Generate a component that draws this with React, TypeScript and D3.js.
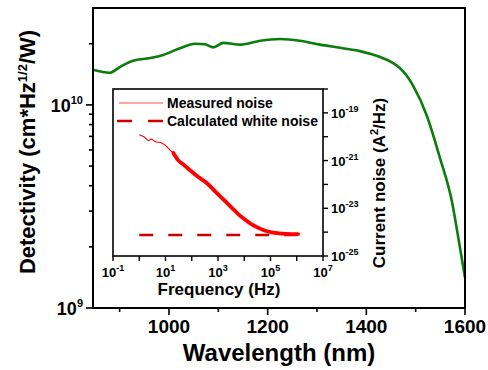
import React from "react";
import * as d3 from "d3";

// Main chart: detectivity vs wavelength
const wavelengths = [846, 880, 901, 927, 962, 988, 1022, 1053, 1073, 1090, 1110, 1145, 1185, 1225, 1265, 1306, 1347, 1387, 1428, 1450, 1468, 1482, 1495, 1523, 1549, 1574, 1586, 1600];
const detectivity = [1.49e10, 1.44e10, 1.54e10, 1.65e10, 1.70e10, 1.76e10, 1.9e10, 2.0e10, 1.99e10, 1.92e10, 2.02e10, 1.98e10, 2.07e10, 2.11e10, 2.07e10, 1.98e10, 1.91e10, 1.84e10, 1.72e10, 1.63e10, 1.52e10, 1.39e10, 1.24e10, 8.8e9, 5.5e9, 3.3e9, 2.25e9, 1.41e9];
const xMajorTicks = [1000, 1200, 1400, 1600];
const xMinorTicks = [900, 1100, 1300, 1500];
const yMajorTicks = [1e9, 1e10];
const yMinorTicks = [2e9, 3e9, 4e9, 5e9, 6e9, 7e9, 8e9, 9e9, 2e10];

// Inset: noise spectrum (log10 values)
const noiseLogF = [0.0, 0.2, 0.35, 0.45, 0.6, 0.87, 1.0, 1.17, 1.3, 1.48, 1.7, 1.93, 2.2, 2.58, 2.9, 3.19, 3.5, 3.75, 4.0, 4.25, 4.5, 4.75, 5.0, 5.25, 5.6, 6.05];
const noiseLogS = [-19.92, -20.02, -20.16, -20.1, -20.2, -20.27, -20.36, -20.56, -20.68, -20.98, -21.18, -21.4, -21.65, -21.95, -22.3, -22.62, -22.95, -23.22, -23.45, -23.65, -23.8, -23.92, -24.0, -24.04, -24.07, -24.08];
const whiteLogF = [0, 6];
const whiteLogS = [-24.12, -24.12];
const insetXExps = [-1, 0, 1, 2, 3, 4, 5, 6, 7];
const insetXLabelExps = [-1, 1, 3, 5, 7];
const insetYExps = [-25, -24, -23, -22, -21, -20, -19, -18];
const insetYLabelExps = [-25, -23, -21, -19];
const legendLabels = ["Measured noise", "Calculated white noise"];

const FONT = "'Liberation Sans', Arial, sans-serif";

export default function App() {
  const W = 488, H = 370;
  const m = { l: 93, t: 8, r: 465, b: 308 };
  const x = d3.scaleLinear().domain([846, 1600]).range([m.l, m.r]);
  const y = d3.scaleLog().domain([1e9, 3e10]).range([m.b, m.t]);

  const ins = { l: 113, t: 89, r: 323, b: 256 };
  const ix = d3.scaleLinear().domain([-1, 7]).range([ins.l, ins.r]);
  const iy = d3.scaleLinear().domain([-25, -18]).range([ins.b, ins.t]);

  const green = d3.line<number>()
    .x((_, i) => x(wavelengths[i]))
    .y((d) => y(d))
    .curve(d3.curveMonotoneX)(detectivity) || "";

  const noisePath = d3.line<number>()
    .x((_, i) => ix(noiseLogF[i]))
    .y((d) => iy(d))
    .curve(d3.curveMonotoneX)(noiseLogS) || "";
  const thickIdx = noiseLogF.map((f, i) => i).filter((i) => noiseLogF[i] >= 1.3);
  const noiseThick = d3.line<number>()
    .x((i) => ix(noiseLogF[i]))
    .y((i) => iy(noiseLogS[i]))
    .curve(d3.curveMonotoneX)(thickIdx) || "";
  const whitePath = d3.line<number>()
    .x((_, i) => ix(whiteLogF[i]))
    .y((d) => iy(d))(whiteLogS) || "";

  return (
    <svg width={W} height={H} style={{ position: "absolute", left: 0, top: 0, background: "#fff" }} fontFamily={FONT} fontWeight="bold">
      <rect x={0} y={0} width={W} height={H} fill="#fff" />
      {/* green curve */}
      <path d={green} fill="none" stroke="#0b7d0b" strokeWidth={2.6} />

      {/* main frame */}
      <rect x={m.l} y={m.t} width={m.r - m.l} height={m.b - m.t} fill="none" stroke="#000" strokeWidth={2} />

      {/* main x ticks */}
      {xMajorTicks.map((t) => (
        <g key={"xm" + t}>
          <line x1={x(t)} x2={x(t)} y1={m.b} y2={m.b + 7} stroke="#000" strokeWidth={1.6} />
          <text x={x(t)} y={333} fontSize={19} textAnchor="middle">{t}</text>
        </g>
      ))}
      {xMinorTicks.map((t) => (
        <line key={"xn" + t} x1={x(t)} x2={x(t)} y1={m.b} y2={m.b + 4} stroke="#000" strokeWidth={1.6} />
      ))}
      {/* main y ticks */}
      {yMajorTicks.map((t) => (
        <g key={"ym" + t}>
          <line x1={m.l - 7} x2={m.l} y1={y(t)} y2={y(t)} stroke="#000" strokeWidth={1.6} />
          <text x={83} y={y(t) + 7} fontSize={18} textAnchor="end">
            <tspan>10</tspan>
            <tspan dy={-8} fontSize={11}>{Math.round(Math.log10(t))}</tspan>
          </text>
        </g>
      ))}
      {yMinorTicks.map((t) => (
        <line key={"yn" + t} x1={m.l - 4} x2={m.l} y1={y(t)} y2={y(t)} stroke="#000" strokeWidth={1.6} />
      ))}

      {/* axis titles */}
      <text x={279} y={361} fontSize={24} textAnchor="middle">Wavelength (nm)</text>
      <text transform="translate(35,152) rotate(-90)" fontSize={22} textAnchor="middle">
        <tspan>Detectivity (cm*Hz</tspan>
        <tspan dy={-8} fontSize={13}>1/2</tspan>
        <tspan dy={8}>/W)</tspan>
      </text>

      {/* inset */}
      <rect x={ins.l} y={ins.t} width={ins.r - ins.l} height={ins.b - ins.t} fill="#fff" stroke="#000" strokeWidth={1.6} />
      <path d={whitePath} fill="none" stroke="#cc0000" strokeWidth={2.6} strokeDasharray="14,15" />
      <path d={noisePath} fill="none" stroke="#ff0000" strokeWidth={1.1} />
      <path d={noiseThick} fill="none" stroke="#ff0000" strokeWidth={3.8} strokeLinejoin="round" strokeLinecap="round" />

      {insetXExps.map((e) => (
        <line key={"ix" + e} x1={ix(e)} x2={ix(e)} y1={ins.b} y2={ins.b + 5} stroke="#000" strokeWidth={1.4} />
      ))}
      {insetXLabelExps.map((e) => (
        <text key={"ixl" + e} x={ix(e)} y={277} fontSize={13} textAnchor="middle">
          <tspan>10</tspan>
          <tspan dy={-6} fontSize={9}>{e}</tspan>
        </text>
      ))}
      {insetYExps.map((e) => (
        <line key={"iy" + e} x1={ins.r} x2={ins.r + 5} y1={iy(e)} y2={iy(e)} stroke="#000" strokeWidth={1.4} />
      ))}
      {insetYLabelExps.map((e) => (
        <text key={"iyl" + e} x={331} y={iy(e) + 5} fontSize={13} textAnchor="start">
          <tspan>10</tspan>
          <tspan dy={-6} fontSize={9}>{e}</tspan>
        </text>
      ))}
      <text x={219} y={295} fontSize={17} textAnchor="middle">Frequency (Hz)</text>
      <text transform="translate(385,183) rotate(-90)" fontSize={17} textAnchor="middle">
        <tspan>Current noise (A</tspan>
        <tspan dy={-7} fontSize={11}>2</tspan>
        <tspan dy={7}>/Hz)</tspan>
      </text>

      {/* legend */}
      <line x1={119} x2={163} y1={103} y2={103} stroke="#ff5050" strokeWidth={1.2} />
      <text x={167} y={108} fontSize={14}>{legendLabels[0]}</text>
      <line x1={117} x2={163} y1={121} y2={121} stroke="#cc0000" strokeWidth={2.6} strokeDasharray="15,16" />
      <text x={167} y={126} fontSize={14}>{legendLabels[1]}</text>
    </svg>
  );
}
